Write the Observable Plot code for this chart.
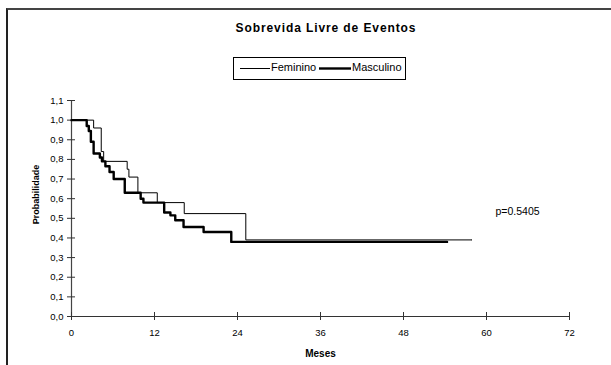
<!DOCTYPE html>
<html>
<head>
<meta charset="utf-8">
<script src="https://cdn.jsdelivr.net/npm/d3@7"></script>
<script src="https://cdn.jsdelivr.net/npm/@observablehq/plot@0.6"></script>
<style>
  body { margin: 0; background: #fff; }
  #wrap { position: relative; width: 611px; height: 365px; overflow: hidden; background: #fff; font-family: "Liberation Sans", Arial, sans-serif; }
  #frame { position: absolute; left: 6px; top: 8px; width: 700px; height: 500px; border-left: 2px solid #222; border-top: 2px solid #444; }
  #title { position: absolute; left: 0; width: 652px; top: 21px; text-align: center; font-weight: bold; font-size: 12px; letter-spacing: 0.9px; color: #000; }
  #legend { position: absolute; left: 233px; top: 57px; width: 171px; height: 21px; border: 1px solid #000; font-size: 11px; }
  #legend svg, #legend span { position: absolute; }
  #plot { position: absolute; left: 0; top: 0; }
</style>
</head>
<body>
<div id="wrap">
  <div id="frame"></div>
  <div id="plot"></div>
  <div id="title">Sobrevida Livre de Eventos</div>
  <div id="legend"></div>
</div>
<script>
// Kaplan-Meier curves
const femTimes  = [0, 3.2, 4.3, 4.65, 8.05, 8.3, 9.6, 12.4, 16.3, 25.2, 57.9];
const femValues = [1.0, 0.96, 0.84, 0.79, 0.75, 0.71, 0.63, 0.58, 0.524, 0.39, 0.39];
const mascTimes  = [0, 2.2, 2.5, 2.8, 3.2, 4.1, 4.4, 4.9, 5.5, 6.1, 7.7, 10.0, 10.4, 13.4, 14.3, 15.0, 16.2, 19.1, 23.1, 54.3];
const mascValues = [1.0, 0.97, 0.945, 0.89, 0.83, 0.81, 0.79, 0.765, 0.736, 0.70, 0.63, 0.60, 0.58, 0.53, 0.515, 0.49, 0.456, 0.43, 0.38, 0.38];
const seriesNames = ["Feminino", "Masculino"];
const xTicks = [0, 12, 24, 36, 48, 60, 72];
const yTicks = [0, 0.1, 0.2, 0.3, 0.4, 0.5, 0.6, 0.7, 0.8, 0.9, 1.0, 1.1];
const pLabel = ["p=0.5405"];
const pPos = {x: 61.3, y: 0.533};

const fem = femTimes.map((t, i) => ({t, s: femValues[i]}));
const masc = mascTimes.map((t, i) => ({t, s: mascValues[i]}));
const fmt = d => d.toFixed(1).replace(".", ",");

const chart = Plot.plot({
  width: 611,
  height: 365,
  marginLeft: 71,
  marginRight: 42,
  marginTop: 100,
  marginBottom: 49,
  style: {background: "transparent", fontFamily: "Liberation Sans, Arial, sans-serif", fontSize: "9.5px", color: "#000"},
  x: {domain: [0, 72], ticks: xTicks},
  y: {domain: [0, 1.1], ticks: yTicks},
  marks: [
    Plot.ruleY([0], {stroke: "#333", strokeWidth: 1.2}),
    Plot.ruleX([0], {stroke: "#444", strokeWidth: 1.2}),
    Plot.axisX({ticks: xTicks, tickSize: 4, tickPadding: 9, stroke: "#333", label: null, fontSize: 9.5}),
    Plot.axisX({ticks: xTicks, tickSize: 4, dy: -4, text: null, stroke: "#333", label: null}),
    Plot.axisY({ticks: yTicks, tickSize: 4, tickPadding: 4, tickFormat: fmt, stroke: "#333", label: null, fontSize: 9.5}),
    Plot.axisY({ticks: yTicks, tickSize: 4, dx: 4, text: null, stroke: "#333", label: null}),
    Plot.line(fem, {x: "t", y: "s", curve: "step-after", stroke: "#000", strokeWidth: 1}),
    Plot.line(masc, {x: "t", y: "s", curve: "step-after", stroke: "#000", strokeWidth: 2.4}),
    Plot.text(pLabel, {x: pPos.x, y: pPos.y, text: d => d, textAnchor: "start", fontSize: 10.5, fill: "#000"}),
    Plot.text(["Meses"], {frameAnchor: "bottom", lineAnchor: "middle", dy: 37, text: d => d, fontWeight: "bold", fontSize: 10, letterSpacing: "0.6px"}),
    Plot.text(["Probabilidade"], {frameAnchor: "left", textAnchor: "middle", lineAnchor: "middle", dx: -35, dy: -14, rotate: -90, text: d => d, fontWeight: "bold", fontSize: 9})
  ]
});
document.getElementById("plot").appendChild(chart);

// Legend (positions inside the legend box)
const legend = document.getElementById("legend");
const items = [
  {line: [6, 36], text: 37, w: 1},
  {line: [85, 117], text: 118, w: 2.4}
];
seriesNames.forEach((name, i) => {
  const it = items[i];
  const svg = d3.create("svg").attr("width", 171).attr("height", 21)
    .style("left", "0px").style("top", "0px");
  svg.append("line").attr("x1", it.line[0]).attr("x2", it.line[1]).attr("y1", 10.5).attr("y2", 10.5)
    .attr("stroke", "#000").attr("stroke-width", it.w);
  legend.appendChild(svg.node());
  const span = document.createElement("span");
  span.textContent = name;
  span.style.left = it.text + "px";
  span.style.top = "3px";
  legend.appendChild(span);
});
</script>
</body>
</html>
